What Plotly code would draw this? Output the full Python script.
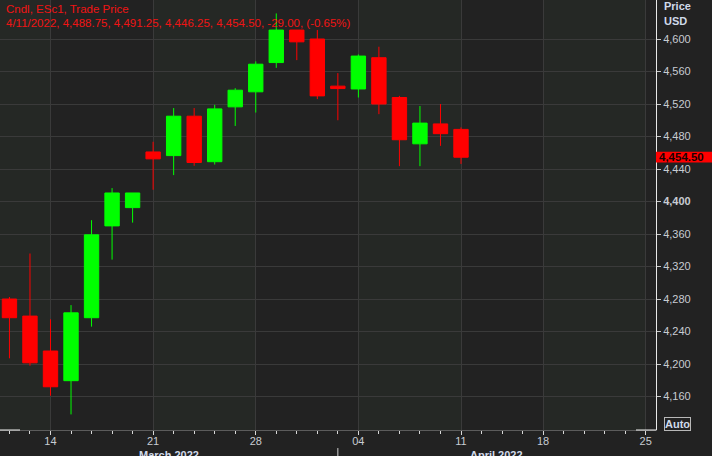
import datetime as dt
import plotly.graph_objects as go

# ---------------- data ----------------
dates = ["2022-03-10", "2022-03-11",
         "2022-03-14", "2022-03-15", "2022-03-16", "2022-03-17", "2022-03-18",
         "2022-03-21", "2022-03-22", "2022-03-23", "2022-03-24", "2022-03-25",
         "2022-03-28", "2022-03-29", "2022-03-30", "2022-03-31", "2022-04-01",
         "2022-04-04", "2022-04-05", "2022-04-06", "2022-04-07", "2022-04-08",
         "2022-04-11"]
opens = [4280, 4259, 4216, 4179.5, 4257, 4370, 4392.5,
         4461, 4456.5, 4505, 4449, 4516.5,
         4535, 4571, 4611, 4600, 4542,
         4538.5, 4577, 4528, 4471, 4495.5,
         4488.75]
highs = [4282.5, 4336, 4255, 4272.5, 4377, 4416.5, 4410.5,
         4473.5, 4515, 4515, 4519, 4539.5,
         4572.5, 4631.5, 4611, 4611, 4558,
         4581, 4590.5, 4530, 4517.5, 4520,
         4491.25]
lows = [4207, 4198, 4161, 4138, 4246, 4328.5, 4374,
        4414.5, 4432.5, 4444, 4445.5, 4493,
        4509.5, 4564.5, 4574, 4526, 4500,
        4528, 4507.5, 4443.5, 4443.5, 4468.5,
        4446.25]
closes = [4257, 4201.5, 4172, 4263, 4359, 4410.5, 4410.5,
          4452.5, 4505, 4448, 4514, 4537,
          4569, 4611, 4596.5, 4530, 4539,
          4579, 4520, 4476, 4496.5, 4483.5,
          4454.50]
# future trading days shown on the axis (Good Friday 2022-04-15 skipped)
future_days = ["2022-04-12", "2022-04-13", "2022-04-14",
               "2022-04-18", "2022-04-19", "2022-04-20", "2022-04-21",
               "2022-04-22", "2022-04-25"]
y_ticks = [4160, 4200, 4240, 4280, 4320, 4360, 4400, 4440, 4480, 4520, 4560, 4600]
title_line1 = "Cndl, ESc1, Trade Price"
title_line2 = "4/11/2022, 4,488.75, 4,491.25, 4,446.25, 4,454.50, -29.00, (-0.65%)"
last_price = 4454.50
month_labels = ["March 2022", "April 2022"]

# ---------------- derived positions ----------------
axis_days = dates + future_days
day_objs = [dt.date.fromisoformat(d) for d in axis_days]
idx = list(range(len(axis_days)))
cx = [axis_days.index(d) for d in dates]
mondays = [i for i, d in enumerate(day_objs) if d.weekday() == 0]
monday_text = [day_objs[i].strftime("%d") for i in mondays]
first_april = next(i for i, d in enumerate(day_objs) if d.month == 4)

XR = [-0.46, 31.5]
YR = [4118.8, 4648.0]

BG = "#222222"
GRID = "#3a3a3a"
TICKC = "#c8ccd2"
FONT = "Liberation Sans"

fig = go.Figure()
fig.add_trace(go.Candlestick(
    x=cx, open=opens, high=highs, low=lows, close=closes,
    increasing=dict(line=dict(color="#00ff00", width=1), fillcolor="#00ff00"),
    decreasing=dict(line=dict(color="#ff0000", width=1), fillcolor="#ff0000"),
    whiskerwidth=0, hoverinfo="skip", showlegend=False,
))

shapes = []
# alternating weekly bands
bounds = [XR[0]] + mondays + [XR[1]]
for k in range(len(bounds) - 1):
    if k % 2 == 0:
        shapes.append(dict(type="rect", xref="x", yref="paper",
                           x0=bounds[k], x1=bounds[k + 1], y0=0, y1=1,
                           fillcolor="#252825", line=dict(width=0), layer="below"))
# month separator
shapes.append(dict(type="line", xref="x", yref="paper", x0=first_april, x1=first_april,
                   y0=-0.042, y1=-0.07, line=dict(color="#d0d0d0", width=1)))
# white segments on bottom axis
shapes.append(dict(type="line", xref="paper", yref="paper", x0=0, x1=20 / 656,
                   y0=0, y1=0, line=dict(color="#f0f0f0", width=1)))
shapes.append(dict(type="line", xref="paper", yref="paper", x0=636 / 656, x1=1,
                   y0=0, y1=0, line=dict(color="#f0f0f0", width=1)))
# last price box
shapes.append(dict(type="rect", xref="paper", yref="y", x0=1.0, x1=712 / 656,
                   y0=last_price - 6.6, y1=last_price + 6.6,
                   fillcolor="#ff0000", line=dict(width=0)))

annotations = [
    dict(text=title_line1, xref="paper", yref="paper", x=4 / 656, y=1 - 8.7 / 430,
         xanchor="left", yanchor="middle", showarrow=False,
         font=dict(family=FONT, size=11.5, color="#f01414")),
    dict(text=title_line2, xref="paper", yref="paper", x=4 / 656, y=1 - 23.3 / 430,
         xanchor="left", yanchor="middle", showarrow=False,
         font=dict(family=FONT, size=11.5, color="#f01414")),
    dict(text="<b>Price</b>", xref="paper", yref="paper", x=662 / 656, y=1 - 5.5 / 430,
         xanchor="left", yanchor="middle", showarrow=False,
         font=dict(family=FONT, size=11, color="#d0daea")),
    dict(text="<b>USD</b>", xref="paper", yref="paper", x=662 / 656, y=1 - 20.5 / 430,
         xanchor="left", yanchor="middle", showarrow=False,
         font=dict(family=FONT, size=11, color="#d0daea")),
    dict(text="<b>" + f"{last_price:,.2f}" + "</b>", xref="paper", yref="y",
         x=657 / 656, y=last_price, xanchor="left", yanchor="middle", showarrow=False,
         font=dict(family=FONT, size=11.5, color="#1a0000")),
    dict(text="<b>Auto</b>", xref="paper", yref="paper", x=677 / 656, y=(430 - 423.5) / 430,
         xanchor="center", yanchor="middle", showarrow=False,
         bordercolor="#b8b8b8", borderwidth=1, borderpad=0,
         font=dict(family=FONT, size=11, color="#d0daea")),
    dict(text="<b>" + month_labels[0] + "</b>", xref="paper", yref="paper",
         x=169 / 656, y=(430 - 455) / 430, xanchor="center", yanchor="middle",
         showarrow=False, font=dict(family=FONT, size=11, color="#d0daea")),
    dict(text="<b>" + month_labels[1] + "</b>", xref="paper", yref="paper",
         x=497 / 656, y=(430 - 455) / 430, xanchor="center", yanchor="middle",
         showarrow=False, font=dict(family=FONT, size=11, color="#d0daea")),
]

ytext = [("<b>%s</b>" if v == 4400 else "%s") % f"{v:,}" for v in y_ticks]

fig.update_layout(
    width=712, height=456,
    margin=dict(l=0, r=56, t=0, b=26, autoexpand=False),
    paper_bgcolor=BG, plot_bgcolor=BG,
    boxgap=0.3, boxgroupgap=0,
    hovermode=False, showlegend=False,
    shapes=shapes, annotations=annotations,
    xaxis=dict(
        type="linear", range=XR, rangeslider=dict(visible=False),
        tickmode="array", tickvals=mondays, ticktext=monday_text,
        ticks="outside", ticklen=4, tickcolor="#d8d8d8", tickwidth=1,
        ticklabelstandoff=-3,
        showgrid=True, gridcolor=GRID, gridwidth=1, zeroline=False,
        showline=True, linecolor="#5c5c5c", linewidth=1,
        tickfont=dict(family=FONT, size=11, color=TICKC),
        minor=dict(tickmode="array", tickvals=idx, ticks="outside", ticklen=3,
                   tickcolor="#d8d8d8", showgrid=False),
        fixedrange=True,
    ),
    yaxis=dict(
        side="right", range=YR,
        tickmode="array", tickvals=y_ticks, ticktext=ytext,
        ticks="outside", ticklen=4, tickcolor="#c8c8c8",
        showgrid=True, gridcolor=GRID, gridwidth=1, zeroline=False,
        showline=True, linecolor="#e8e8e8", linewidth=1,
        tickfont=dict(family=FONT, size=11, color=TICKC),
        fixedrange=True,
    ),
)

fig.write_html(
    "out.html",
    config={"displayModeBar": False},
    post_script="document.body.style.margin='0';document.body.style.background='#222222';",
)
